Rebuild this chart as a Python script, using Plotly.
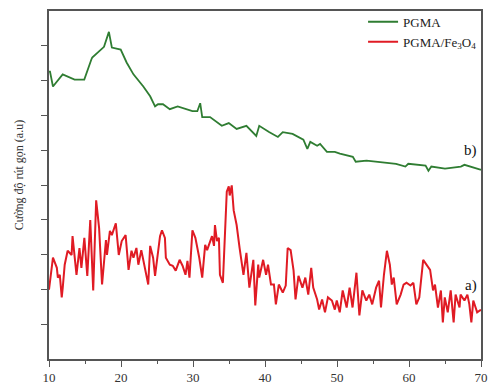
import plotly.graph_objects as go

# 2-theta (degrees) and reduced intensity (a.u.) for the pure polymer
pgma_2theta = [10.0, 10.14, 10.55, 11.9, 13.55, 14.9, 15.87, 16.0, 17.64, 18.32, 18.73,
               19.96, 20.78, 21.73, 23.1, 24.05, 24.73, 25.14, 25.83, 26.78, 27.87,
               29.92, 30.6, 31.0, 31.28, 32.37, 34.0, 34.97, 36.06, 37.42, 38.79,
               39.2, 40.56, 41.79, 42.47, 43.83, 45.33, 45.88, 46.29, 47.24, 47.65,
               48.6, 49.7, 50.4, 52.2, 52.6, 54.1, 55.8, 58.2, 59.5, 59.9, 62.3,
               62.7, 63.1, 65.0, 67.2, 67.7, 69.9, 70.0]
pgma_int = [8.26, 8.26, 7.83, 8.18, 8.03, 8.03, 8.6, 8.66, 8.97, 9.40, 8.95,
            8.89, 8.52, 8.18, 7.83, 7.55, 7.26, 7.32, 7.32, 7.18, 7.26,
            7.12, 7.12, 7.35, 6.95, 6.95, 6.70, 6.78, 6.61, 6.70, 6.41,
            6.70, 6.52, 6.38, 6.52, 6.47, 6.30, 6.04, 6.24, 6.13, 6.18,
            5.95, 5.95, 5.90, 5.81, 5.67, 5.70, 5.67, 5.61, 5.53, 5.61, 5.56,
            5.41, 5.53, 5.47, 5.53, 5.58, 5.44, 5.44]

# 2-theta (degrees) and reduced intensity (a.u.) for the magnetite composite
comp_2theta = [10.0, 10.55, 11.09, 11.23, 11.5, 11.77, 11.91, 12.18, 12.59, 13.14, 13.27,
               13.82, 14.23, 14.5, 14.91, 15.32, 15.73, 16.14, 16.55, 16.96, 17.37,
               17.91, 18.05, 18.46, 18.73, 19.28, 19.69, 20.1, 20.64, 21.05, 21.46,
               21.73, 22.14, 22.41, 22.82, 23.37, 23.78, 24.05, 24.46, 24.73, 25.42,
               25.69, 26.1, 26.23, 26.78, 27.19, 27.6, 28.14, 28.55, 28.96, 29.23,
               29.51, 29.92, 30.33, 30.87, 31.28, 31.69, 31.96, 32.37, 32.64, 32.92,
               33.05, 33.33, 33.6, 33.74, 34.15, 34.69, 34.97, 35.1, 35.38, 35.65,
               36.06, 36.47, 37.01, 37.42, 37.83, 38.38, 38.65, 39.06, 39.2, 39.74,
               40.15, 40.42, 40.83, 41.24, 41.51, 41.92, 42.47, 42.88, 43.15, 43.56,
               43.97, 44.24, 44.65, 45.2, 45.6, 46.01, 46.42, 46.7, 47.24, 47.52,
               47.93, 48.33, 48.74, 49.29, 49.7, 49.97, 50.38, 50.79, 51.34, 51.75,
               52.16, 52.7, 53.11, 53.52, 54.07, 54.48, 54.89, 55.43, 55.84, 56.11,
               56.52, 56.93, 57.34, 57.61, 57.88, 58.29, 58.84, 59.25, 59.65, 60.2,
               60.61, 61.02, 61.43, 61.97, 62.38, 62.93, 63.34, 63.61, 64.02, 64.43,
               64.7, 64.97, 65.38, 65.79, 66.2, 66.47, 67.02, 67.16, 67.7, 68.11,
               68.38, 68.66, 68.93, 69.2, 69.47, 69.88, 70.0]
comp_int = [1.99, 2.91, 2.62, 2.34, 2.42, 1.77, 2.05, 2.71, 3.11, 2.99, 3.53,
            2.42, 3.19, 2.62, 3.48, 2.39, 3.99, 1.97, 4.56, 3.76, 2.14,
            3.42, 2.99, 3.68, 3.56, 3.90, 2.99, 3.39, 3.56, 2.56, 3.11,
            2.91, 3.19, 2.71, 3.13, 2.54, 2.14, 3.25, 2.91, 2.39, 3.53,
            3.70, 3.48, 2.91, 2.71, 2.68, 2.54, 2.85, 2.68, 2.42, 2.82,
            2.34, 3.70, 3.48, 2.91, 2.34, 3.28, 3.13, 3.39, 3.53, 3.25,
            3.85, 3.39, 3.48, 2.42, 2.19, 4.81, 4.96, 4.70, 4.99, 4.27,
            3.85, 3.19, 2.42, 3.05, 2.05, 2.85, 1.54, 2.71, 2.34, 2.85,
            2.42, 2.71, 2.14, 2.14, 1.57, 2.14, 1.91, 2.11, 3.19, 3.13,
            2.54, 1.71, 2.39, 2.05, 2.34, 1.85, 2.62, 2.05, 1.71, 1.42,
            1.71, 1.34, 1.77, 1.68, 1.42, 1.68, 1.34, 1.97, 1.48, 2.05,
            1.48, 2.48, 1.25, 1.97, 1.68, 1.85, 1.57, 2.05, 2.25, 1.48,
            2.42, 3.11, 2.71, 2.14, 2.34, 1.57, 1.85, 2.14, 2.19, 2.11,
            2.19, 1.57, 1.77, 2.85, 2.71, 2.56, 1.97, 2.14, 1.48, 1.97,
            1.05, 1.77, 1.34, 1.97, 1.05, 1.85, 1.48, 1.85, 1.68, 1.85,
            1.57, 1.05, 1.68, 1.48, 1.34, 1.40, 1.40]

x_ticks = [10, 20, 30, 40, 50, 60, 70]
y_title = "Cường độ rút gọn (a.u)"
series_names = ["PGMA", "PGMA/Fe<sub>3</sub>O<sub>4</sub>"]
curve_labels = [("b)", 68.5, 5.98), ("a)", 68.6, 2.12)]

SERIF = "Liberation Serif"
AXIS = "#555555"

fig = go.Figure()
fig.add_trace(go.Scatter(x=pgma_2theta, y=pgma_int, mode="lines", name=series_names[0],
                         line=dict(color="#2f7d32", width=1.8)))
fig.add_trace(go.Scatter(x=comp_2theta, y=comp_int, mode="lines", name=series_names[1],
                         line=dict(color="#e01b24", width=2)))

for txt, xv, yv in curve_labels:
    fig.add_annotation(x=xv, y=yv, text=txt, showarrow=False,
                       font=dict(family=SERIF, size=15, color="#111111"))

fig.add_annotation(xref="paper", yref="paper", x=-0.07, y=0.53, text=y_title,
                   textangle=-90, showarrow=False, xanchor="center", yanchor="middle",
                   font=dict(family=SERIF, size=12, color="#333333"))

fig.update_xaxes(range=[10, 70], tickvals=x_ticks, ticks="outside", ticklen=6,
                 tickwidth=1.2, tickcolor=AXIS, showline=True, linecolor=AXIS,
                 linewidth=1.5, mirror=True, showgrid=False, zeroline=False,
                 tickfont=dict(family=SERIF, size=13, color="#333333"),
                 minor=dict(tickvals=[15, 25, 35, 45, 55, 65], ticks="outside",
                            ticklen=3, tickcolor=AXIS, tickwidth=1.2))
fig.update_yaxes(range=[0, 10], tickvals=list(range(1, 10)), showticklabels=False,
                 ticks="outside", ticklen=6, tickwidth=1.2, tickcolor=AXIS,
                 showline=True, linecolor=AXIS, linewidth=1.5, mirror=True,
                 showgrid=False, zeroline=False)

fig.update_layout(
    width=495, height=392,
    margin=dict(l=49, r=7, t=11, b=30),
    paper_bgcolor="white", plot_bgcolor="white",
    showlegend=True,
    legend=dict(x=0.727, y=1.012, xanchor="left", yanchor="top",
                bgcolor="rgba(0,0,0,0)", borderwidth=0,
                font=dict(family=SERIF, size=13, color="#222222"),
                tracegroupgap=0, itemwidth=30),
)

fig.write_html("out.html")
